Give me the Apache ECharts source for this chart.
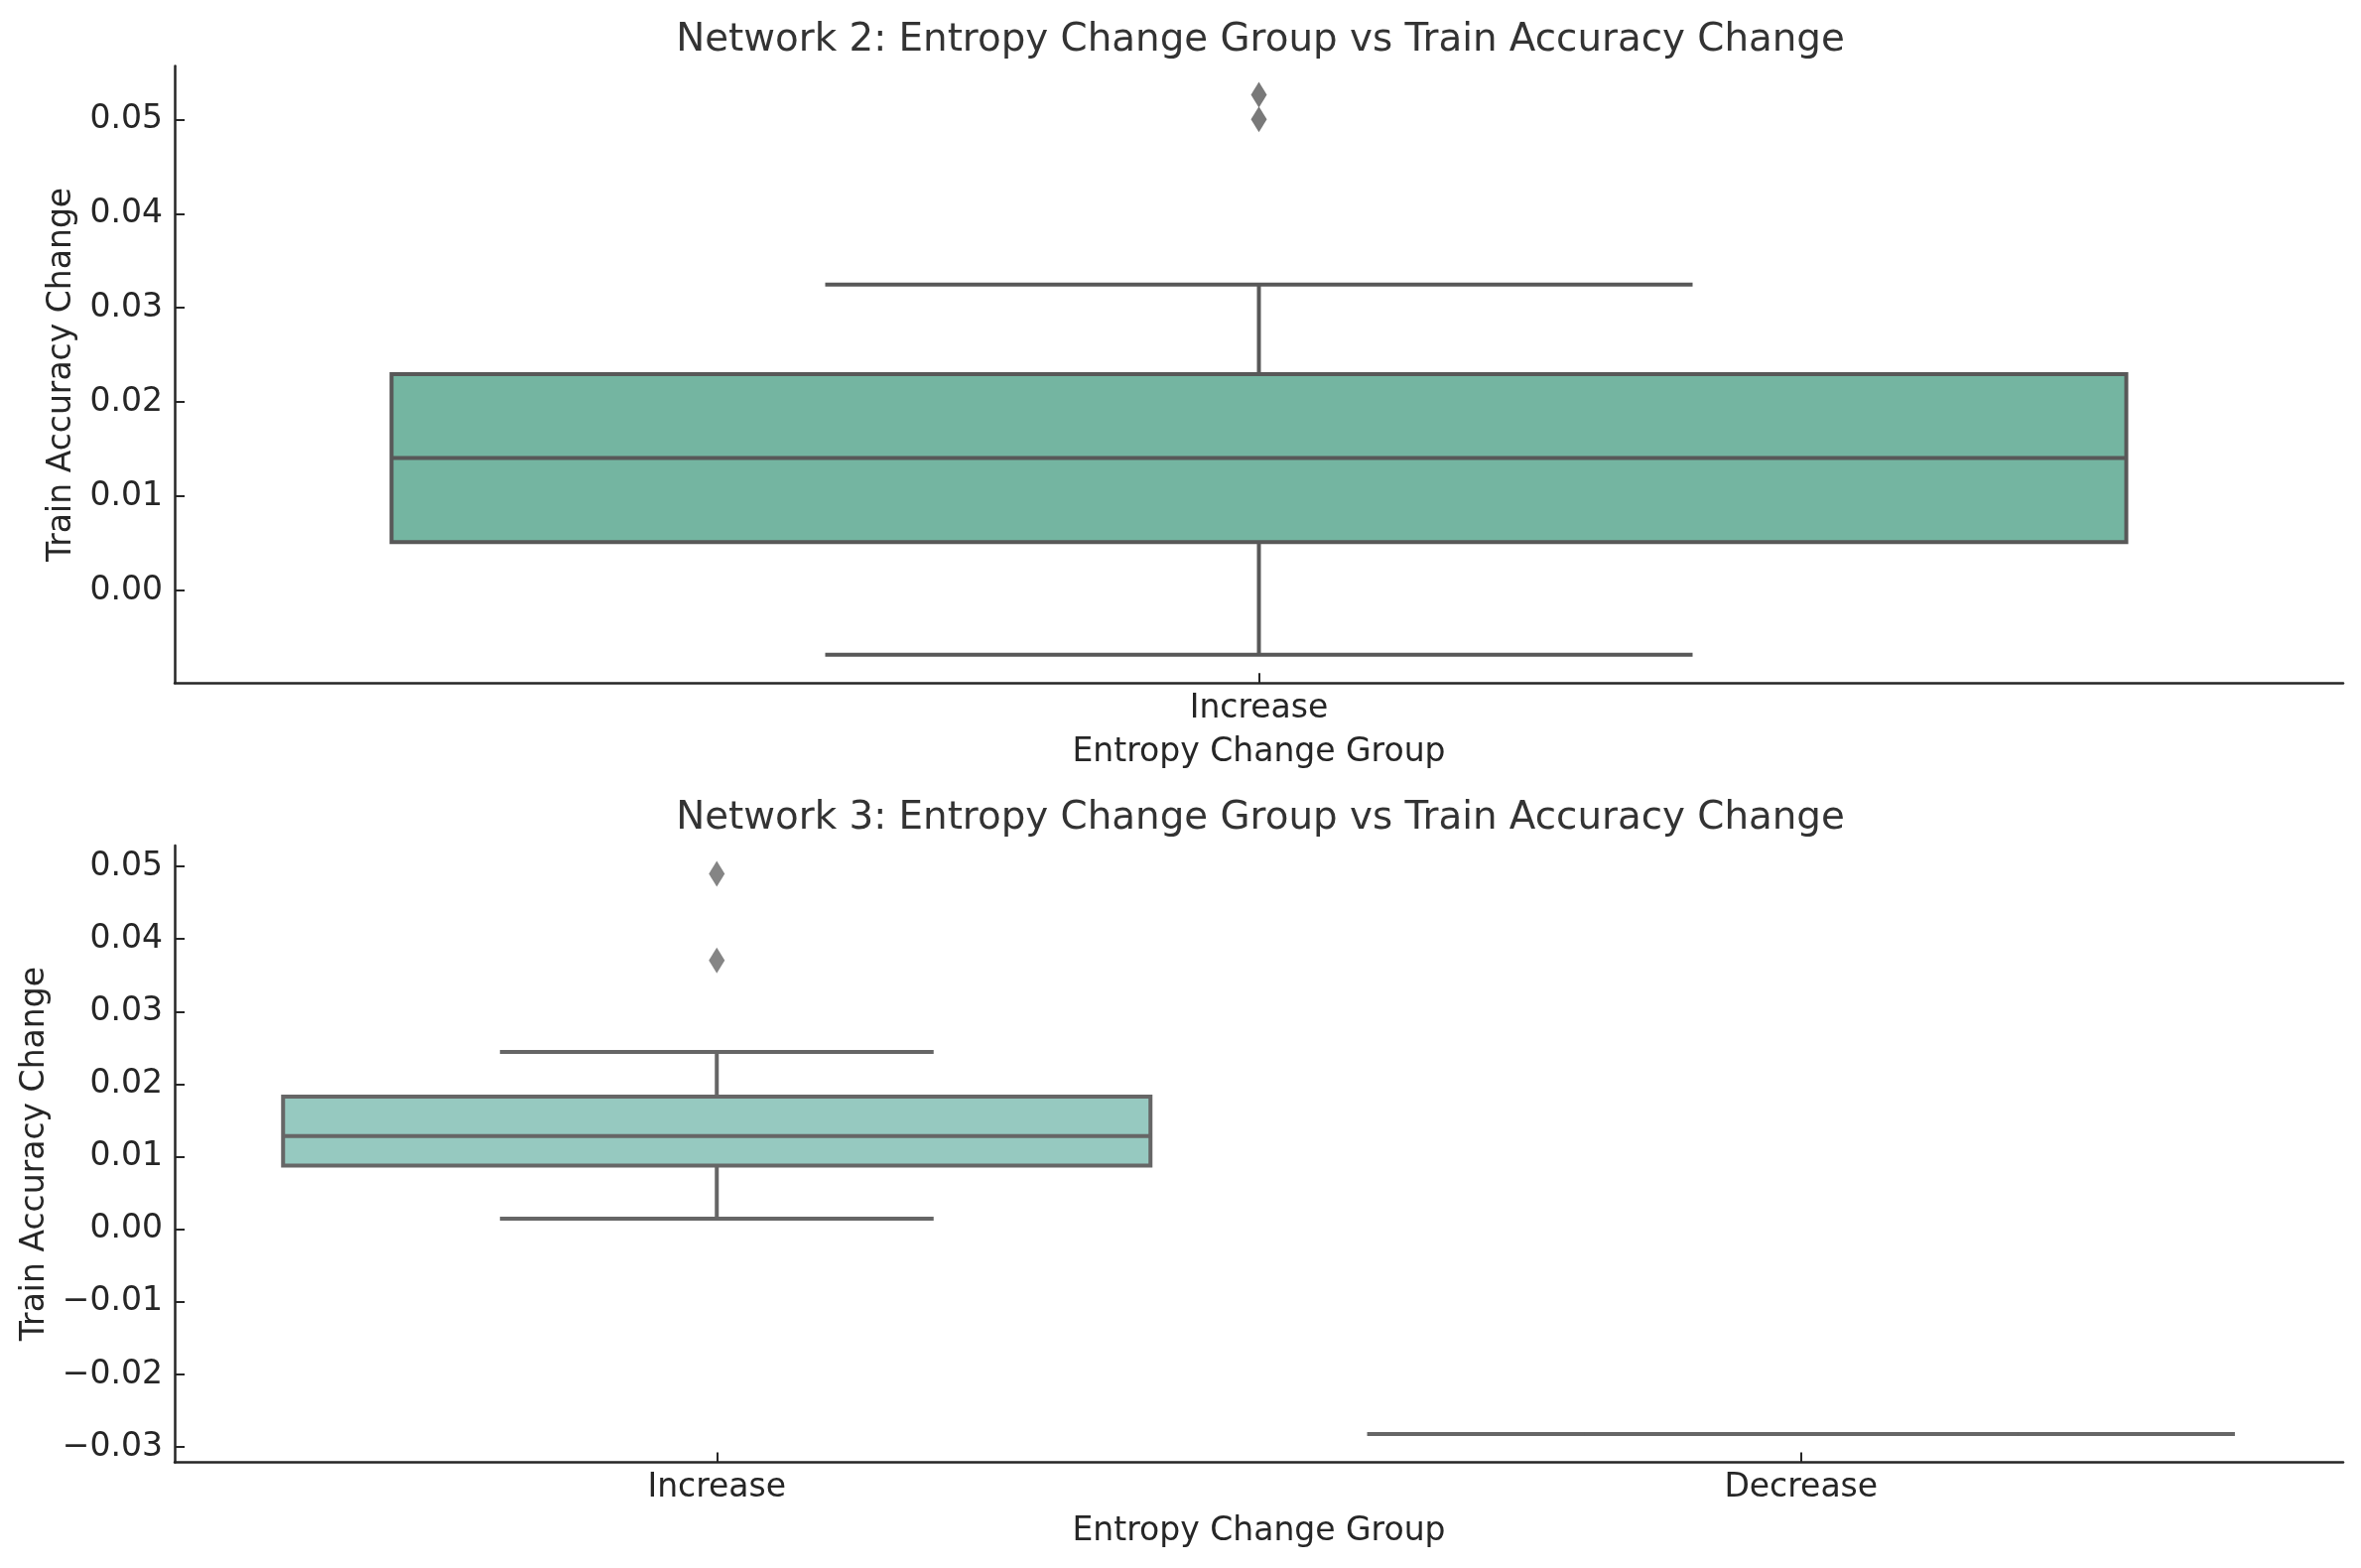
<!DOCTYPE html>
<html>
<head>
<meta charset="utf-8">
<script src="https://cdn.jsdelivr.net/npm/echarts@6/dist/echarts.min.js"></script>
<style>
html,body{margin:0;padding:0;background:#fff;}
#chart{width:2379px;height:1580px;}
</style>
</head>
<body>
<div id="chart"></div>
<script>
// ---- Data ----
const net2Categories = ['Increase'];
// [min whisker, Q1, median, Q3, max whisker]
const net2Box = [[-0.0068, 0.00513, 0.01407, 0.02297, 0.03248]];
const net2OutlierGroups = ['Increase', 'Increase'];
const net2OutlierValues = [0.05262, 0.05001];
const net2Ticks = [0.00, 0.01, 0.02, 0.03, 0.04, 0.05];

const net3Categories = ['Increase', 'Decrease'];
const net3Box = [
  [0.00146, 0.00879, 0.01284, 0.01828, 0.02442],
  [-0.0282, -0.0282, -0.0282, -0.0282, -0.0282]
];
const net3OutlierGroups = ['Increase', 'Increase'];
const net3OutlierValues = [0.04897, 0.03703];
const net3Ticks = [-0.03, -0.02, -0.01, 0.00, 0.01, 0.02, 0.03, 0.04, 0.05];

const title2 = 'Network 2: Entropy Change Group vs Train Accuracy Change';
const title3 = 'Network 3: Entropy Change Group vs Train Accuracy Change';
const xName = 'Entropy Change Group';
const yName = 'Train Accuracy Change';

// ---- Styling ----
const FONT = 'DejaVu Sans';
const TEXT = '#262626';
const styles = [
  {fill: '#74b5a1', line: '#585858', flier: '#585858'},
  {fill: '#96c9c0', line: '#666666', flier: '#666666'}
];

function fmt(v) {
  const s = Math.abs(v) < 1e-9 ? '0.00' : v.toFixed(2);
  return s.replace('-', '\u2212');
}

function makeRender(style) {
  return function (params, api) {
    const idx = api.value(0);
    const v = [api.value(1), api.value(2), api.value(3), api.value(4), api.value(5)];
    const band = api.size([1, 0])[0];
    const cx = api.coord([idx, v[2]])[0];
    const y = val => api.coord([idx, val])[1];
    const boxHalf = band * 0.4, capHalf = band * 0.2;
    const lw = 4;
    const ls = {stroke: style.line, lineWidth: lw, fill: null};
    const yMin = y(v[0]), yQ1 = y(v[1]), yMed = y(v[2]), yQ3 = y(v[3]), yMax = y(v[4]);
    return {
      type: 'group',
      children: [
        {type: 'line', shape: {x1: cx, y1: yQ1, x2: cx, y2: yMin}, style: ls},
        {type: 'line', shape: {x1: cx, y1: yQ3, x2: cx, y2: yMax}, style: ls},
        {type: 'rect', shape: {x: cx - boxHalf, y: yQ3, width: boxHalf * 2, height: yQ1 - yQ3},
          style: {fill: style.fill, stroke: style.line, lineWidth: lw}},
        {type: 'line', shape: {x1: cx - boxHalf, y1: yMed, x2: cx + boxHalf, y2: yMed}, style: ls},
        {type: 'line', shape: {x1: cx - capHalf, y1: yMin, x2: cx + capHalf, y2: yMin}, style: ls},
        {type: 'line', shape: {x1: cx - capHalf, y1: yMax, x2: cx + capHalf, y2: yMax}, style: ls}
      ]
    };
  };
}

function boxData(cats, boxes) {
  return boxes.map((b, i) => [i].concat(b));
}
function outlierData(groups, values) {
  return groups.map((g, i) => [g, values[i]]);
}

const grids = [
  {left: 176, right: 18, top: 66.6, height: 621.7},
  {left: 176, right: 18, top: 851.9, height: 621.5}
];

function xAxisFor(i, cats) {
  return {
    type: 'category', gridIndex: i, data: cats, boundaryGap: true,
    name: xName, nameLocation: 'middle', nameGap: 54,
    nameTextStyle: {fontFamily: FONT, fontSize: 33, color: TEXT},
    axisLine: {show: true, onZero: false, lineStyle: {color: TEXT, width: 2.5}},
    axisTick: {show: true, inside: true, length: 10, alignWithLabel: true, lineStyle: {color: TEXT, width: 2}},
    axisLabel: {fontFamily: FONT, fontSize: 33, color: TEXT, margin: 10},
    splitLine: {show: false}
  };
}
function yAxisFor(i, min, max, ticks, gap) {
  return {
    type: 'value', gridIndex: i, min: min, max: max,
    name: yName, nameLocation: 'middle', nameGap: gap, nameRotate: 90,
    nameTextStyle: {fontFamily: FONT, fontSize: 33, color: TEXT},
    axisLine: {show: true, onZero: false, lineStyle: {color: TEXT, width: 2.5}},
    axisTick: {show: true, inside: true, length: 10, customValues: ticks, lineStyle: {color: TEXT, width: 2}},
    axisLabel: {fontFamily: FONT, fontSize: 33, color: TEXT, margin: 12, customValues: ticks, formatter: fmt},
    splitLine: {show: false}
  };
}

const option = {
  backgroundColor: '#ffffff',
  animation: false,
  title: [
    {text: title2, left: 1265, top: 16, textAlign: 'center',
      textStyle: {fontFamily: FONT, fontSize: 38.8, fontWeight: 'normal', color: '#333333'}},
    {text: title3, left: 1265, top: 800, textAlign: 'center',
      textStyle: {fontFamily: FONT, fontSize: 38.8, fontWeight: 'normal', color: '#333333'}}
  ],
  grid: grids,
  xAxis: [xAxisFor(0, net2Categories), xAxisFor(1, net3Categories)],
  yAxis: [
    yAxisFor(0, -0.00982, 0.05566, net2Ticks, 97),
    yAxisFor(1, -0.03208, 0.05288, net3Ticks, 124)
  ],
  series: [
    {type: 'custom', xAxisIndex: 0, yAxisIndex: 0, renderItem: makeRender(styles[0]),
      data: boxData(net2Categories, net2Box), encode: {x: 0, y: [1, 2, 3, 4, 5]}, clip: false},
    {type: 'scatter', xAxisIndex: 0, yAxisIndex: 0, symbol: 'diamond', symbolSize: [16, 26],
      itemStyle: {color: styles[0].flier}, data: outlierData(net2OutlierGroups, net2OutlierValues)},
    {type: 'custom', xAxisIndex: 1, yAxisIndex: 1, renderItem: makeRender(styles[1]),
      data: boxData(net3Categories, net3Box), encode: {x: 0, y: [1, 2, 3, 4, 5]}, clip: false},
    {type: 'scatter', xAxisIndex: 1, yAxisIndex: 1, symbol: 'diamond', symbolSize: [16, 26],
      itemStyle: {color: styles[1].flier}, data: outlierData(net3OutlierGroups, net3OutlierValues)}
  ]
};

const chart = echarts.init(document.getElementById('chart'), null, {renderer: 'canvas'});
chart.setOption(option);
</script>
</body>
</html>
